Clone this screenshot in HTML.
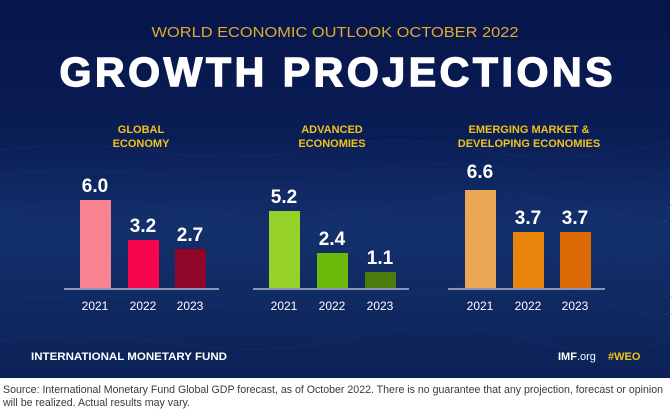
<!DOCTYPE html>
<html><head><meta charset="utf-8"><style>
html,body{margin:0;padding:0;background:#fff;}
svg{display:block;}
</style></head><body>
<svg width="672" height="416" viewBox="0 0 672 416" xmlns="http://www.w3.org/2000/svg" font-family="Liberation Sans, sans-serif">
<defs>
<linearGradient id="bg" x1="0" y1="0" x2="0" y2="1">
<stop offset="0" stop-color="#06154a"/>
<stop offset="0.35" stop-color="#0a1d55"/>
<stop offset="0.6" stop-color="#13306c"/>
<stop offset="1" stop-color="#0c2257"/>
</linearGradient>
</defs>
<rect x="0" y="0" width="670" height="378" fill="url(#bg)"/>
<g stroke="#2a4a88" stroke-opacity="0.2" fill="none" stroke-width="1">
<path d="M0 150 Q80 140 160 152 T320 148 T480 150 T670 142"/>
<path d="M0 175 Q90 165 180 178 T360 172 T540 176 T670 168"/>
<path d="M0 210 Q100 198 200 212 T400 205 T600 210 T670 204"/>
<path d="M0 250 Q90 240 180 254 T360 246 T540 252 T670 244"/>
<path d="M0 300 Q100 290 200 304 T400 296 T600 302 T670 296"/>
<path d="M0 340 Q90 330 180 344 T360 336 T540 342 T670 334"/>
</g>
<text x="335" y="37" text-anchor="middle" font-size="15" fill="#e2a92c" textLength="367" lengthAdjust="spacingAndGlyphs">WORLD ECONOMIC OUTLOOK OCTOBER 2022</text>
<text x="336" y="86" text-anchor="middle" font-size="41" font-weight="900" fill="#ffffff" textLength="553" lengthAdjust="spacing" stroke="#fff" stroke-width="1.4">GROWTH PROJECTIONS</text>
<g font-size="11" font-weight="bold" fill="#f2c21c" text-anchor="middle">
<text x="141" y="133">GLOBAL</text><text x="141" y="147">ECONOMY</text>
<text x="332" y="133">ADVANCED</text><text x="332" y="147">ECONOMIES</text>
<text x="529" y="133">EMERGING MARKET &amp;</text><text x="529" y="147">DEVELOPING ECONOMIES</text>
</g>
<g stroke="#8a93b8" stroke-width="2">
<line x1="64" y1="289" x2="219" y2="289"/>
<line x1="253" y1="289" x2="409" y2="289"/>
<line x1="448" y1="289" x2="605" y2="289"/>
</g>
<rect x="80" y="200" width="31" height="88" fill="#fa8391"/>
<rect x="128" y="240" width="31" height="48" fill="#f9054b"/>
<rect x="175" y="249" width="31" height="39" fill="#8f0628"/>
<rect x="269" y="211" width="31" height="77" fill="#97d22a"/>
<rect x="317" y="253" width="31" height="35" fill="#6cbb08"/>
<rect x="365" y="272" width="31" height="16" fill="#4c7d0c"/>
<rect x="465" y="190" width="31" height="98" fill="#eba755"/>
<rect x="513" y="232" width="31" height="56" fill="#e8850a"/>
<rect x="560" y="232" width="31" height="56" fill="#dc6a06"/>
<g font-size="19" font-weight="bold" fill="#ffffff" text-anchor="middle">
<text x="95" y="192">6.0</text><text x="143" y="232">3.2</text><text x="190" y="241">2.7</text>
<text x="284" y="203">5.2</text><text x="332" y="245">2.4</text><text x="380" y="264">1.1</text>
<text x="480" y="178">6.6</text><text x="528" y="224">3.7</text><text x="575" y="224">3.7</text>
</g>
<g font-size="12" fill="#ffffff" text-anchor="middle">
<text x="95" y="310">2021</text><text x="143" y="310">2022</text><text x="190" y="310">2023</text>
<text x="284" y="310">2021</text><text x="332" y="310">2022</text><text x="380" y="310">2023</text>
<text x="480" y="310">2021</text><text x="528" y="310">2022</text><text x="575" y="310">2023</text>
</g>
<text x="31" y="360" font-size="11" font-weight="bold" fill="#ffffff" textLength="196" lengthAdjust="spacingAndGlyphs">INTERNATIONAL MONETARY FUND</text>
<text x="558" y="360" font-size="11" fill="#ffffff"><tspan font-weight="bold">IMF</tspan>.org</text>
<text x="608" y="360" font-size="11" font-weight="bold" fill="#f2c21c">#WEO</text>
<g font-size="11" fill="#3a3a3a">
<text x="3" y="393" textLength="660" lengthAdjust="spacingAndGlyphs">Source: International Monetary Fund Global GDP forecast, as of October 2022. There is no guarantee that any projection, forecast or opinion</text>
<text x="3" y="406" textLength="187" lengthAdjust="spacingAndGlyphs">will be realized. Actual results may vary.</text>
</g>
</svg>
</body></html>
